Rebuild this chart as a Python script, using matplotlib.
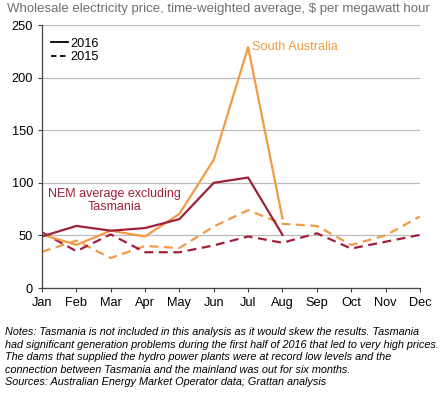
import matplotlib.pyplot as plt
from matplotlib.lines import Line2D

plt.rcParams['font.family'] = ['Liberation Sans', 'DejaVu Sans']

months = ['Jan', 'Feb', 'Mar', 'Apr', 'May', 'Jun', 'Jul', 'Aug', 'Sep', 'Oct', 'Nov', 'Dec']

# 2016 only runs to August
nem_2016 = [49, 59, 54.5, 57, 65.5, 100, 105, 50.5]
sa_2016 = [51, 41, 54.5, 49, 70.5, 122, 229, 66]
# full year 2015
nem_2015 = [53, 35, 51, 34, 34, 40.5, 49, 43, 52, 37.5, 44, 50.5]
sa_2015 = [34.5, 45, 28.5, 40, 38, 58.5, 74, 61, 59, 41, 50, 68]

orange = '#F39A45'
darkred = '#A0203A'

fig = plt.figure(figsize=(4.42, 3.94), dpi=100)
ax = fig.add_axes([0.095, 0.269, 0.855, 0.6675])

x15 = range(len(months))
x16 = range(len(nem_2016))
ax.plot(x15, sa_2015, color=orange, lw=1.6, ls=(0, (4, 2.5)))
ax.plot(x15, nem_2015, color=darkred, lw=1.6, ls=(0, (4, 2.5)))
ax.plot(x16, sa_2016, color=orange, lw=1.6)
ax.plot(x16, nem_2016, color=darkred, lw=1.6)

ax.set_xlim(0, 11)
ax.set_ylim(0, 250)
ax.set_yticks(range(0, 251, 50))
ax.set_xticks(list(x15))
ax.set_xticklabels(months)
ax.yaxis.grid(True, color='#BBBBBB', lw=0.9)
ax.set_axisbelow(True)
for s in ['top', 'right']:
    ax.spines[s].set_visible(False)
for s in ['left', 'bottom']:
    ax.spines[s].set_color('#444444')
    ax.spines[s].set_linewidth(0.9)
ax.tick_params(axis='both', labelsize=9.2, length=3, color='#444444', pad=3.5)

# legend with black sample lines
handles = [Line2D([], [], color='black', lw=1.3),
           Line2D([], [], color='black', lw=1.3, ls=(0, (3, 2)))]
ax.legend(handles, ['2016', '2015'], loc='upper left', frameon=False,
          fontsize=9.2, handlelength=1.3, handletextpad=0.2,
          labelspacing=0.1, borderaxespad=0.3, bbox_to_anchor=(0.0, 0.985))

ax.text(6.12, 229, 'South Australia', color=orange, fontsize=9.2, va='center', ha='left')
ax.text(2.1, 83, 'NEM average excluding\nTasmania', color=darkred, fontsize=9,
        ha='center', va='center', linespacing=1.15)

fig.text(0.015, 0.978, 'Wholesale electricity price, time-weighted average, $ per megawatt hour',
         color='#6E6E6E', fontsize=9.5, ha='left', va='center')

notes = ('Notes: Tasmania is not included in this analysis as it would skew the results. Tasmania\n'
         'had significant generation problems during the first half of 2016 that led to very high prices.\n'
         'The dams that supplied the hydro power plants were at record low levels and the\n'
         'connection between Tasmania and the mainland was out for six months.\n'
         'Sources: Australian Energy Market Operator data; Grattan analysis')
fig.text(0.012, 0.169, notes, fontsize=7.8, style='italic', ha='left', va='top',
         linespacing=1.3)

fig.savefig('out.png', dpi=100)
